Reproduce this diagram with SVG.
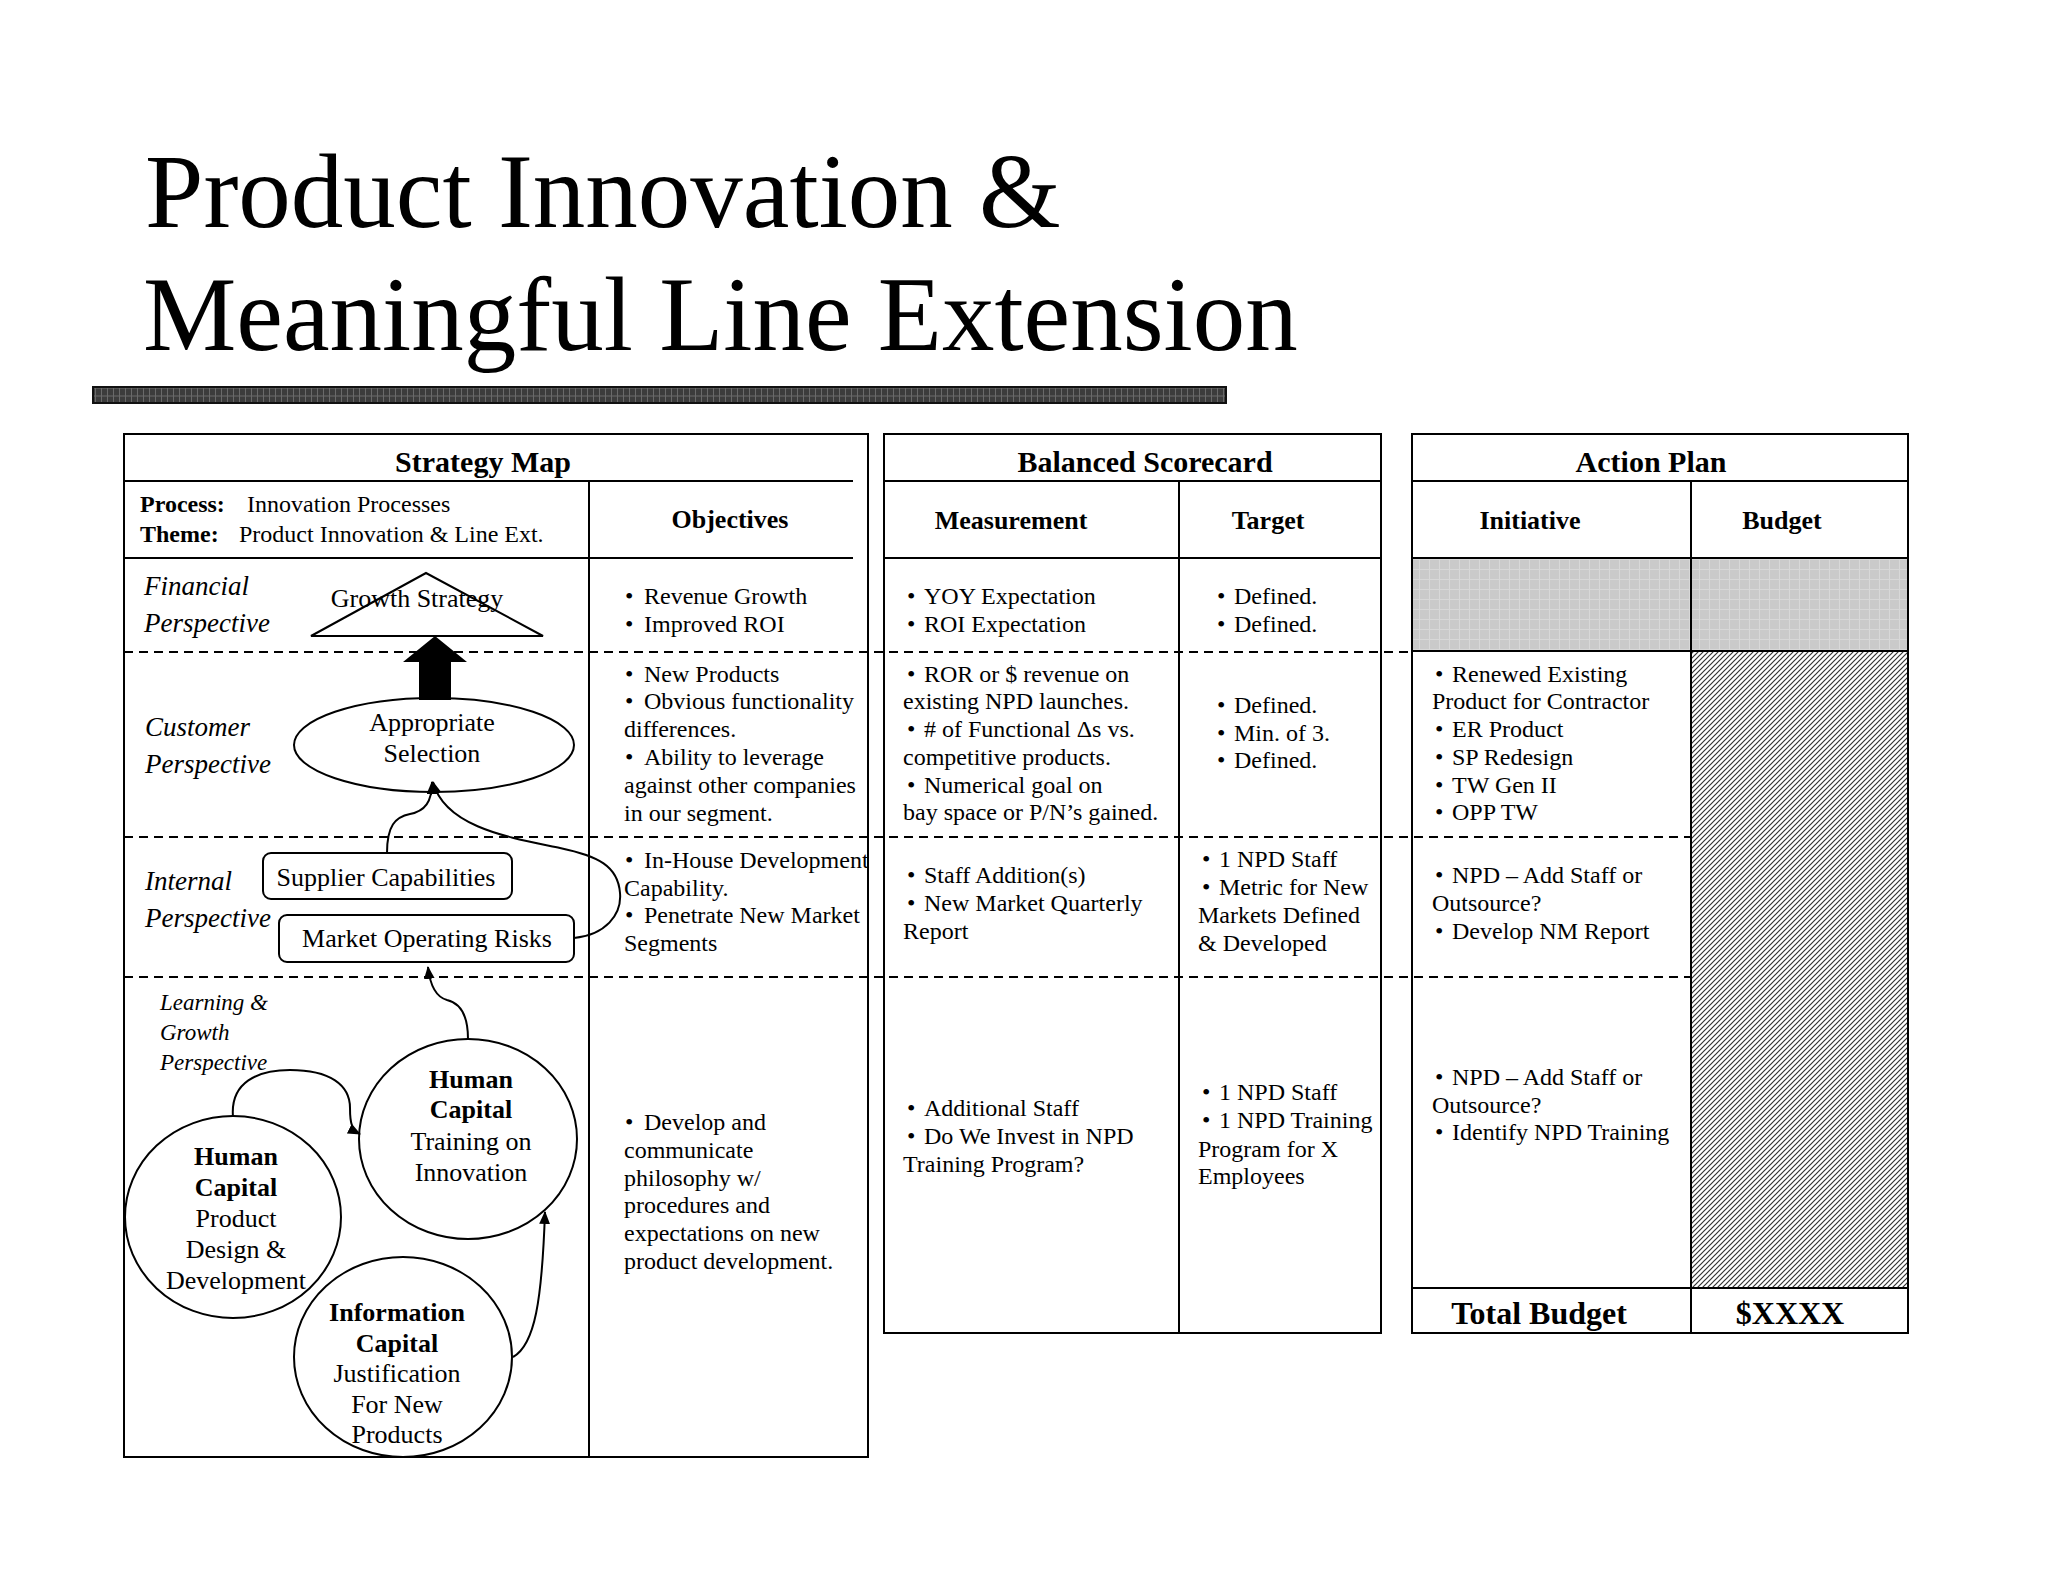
<svg xmlns="http://www.w3.org/2000/svg" width="2048" height="1582" viewBox="0 0 2048 1582">
<style>
text{font-family:"Liberation Serif","DejaVu Serif",serif;fill:#000}
.ttl{font-size:105px}
.hd{font-size:30px;font-weight:bold;text-anchor:middle}
.sh{font-size:26px;font-weight:bold;text-anchor:middle}
.bd{font-size:24px}
.pv{font-size:27px;font-style:italic}
.lg{font-size:23px;font-style:italic}
.nd{font-size:26px;text-anchor:middle}
.nb{font-size:26px;font-weight:bold;text-anchor:middle}
.tot{font-size:32px;font-weight:bold;text-anchor:middle}
.box{fill:none;stroke:#000;stroke-width:2}
.ln{stroke:#000;stroke-width:2;fill:none}
.dash{stroke:#000;stroke-width:2;stroke-dasharray:9 6;fill:none}
.shape{fill:#fff;stroke:#000;stroke-width:2}
.conn{fill:none;stroke:#000;stroke-width:2}
</style>
<defs>
<marker id="ah" viewBox="0 0 12 10" refX="11" refY="5" markerWidth="13" markerHeight="11" orient="auto" markerUnits="userSpaceOnUse"><path d="M0,0 L12,5 L0,10 z" fill="#000"/></marker>
<pattern id="barp" width="6" height="8" patternUnits="userSpaceOnUse"><rect width="6" height="8" fill="#3c3c3c"/><path d="M5.5,0 V8 M0,4 H6" stroke="#6a6a6a" stroke-width="1"/></pattern>
<pattern id="grayp" width="10" height="10" patternUnits="userSpaceOnUse"><rect width="10" height="10" fill="#cacaca"/><path d="M9.5,0 V10 M0,9.5 H10" stroke="#d8d8d8" stroke-width="1"/></pattern>
<pattern id="hatch" width="5" height="5" patternUnits="userSpaceOnUse"><rect width="5" height="5" fill="#fff"/><path d="M-1,6 L6,-1 M-1,1 L1,-1 M4,6 L6,4" stroke="#333" stroke-width="1.2"/></pattern>
</defs>
<rect width="2048" height="1582" fill="#fff"/>

<g id="title">
<text class="ttl" x="145" y="227">Product Innovation &amp;</text>
<text class="ttl" x="143" y="350">Meaningful Line Extension</text>
<rect x="93" y="387" width="1133" height="16" fill="url(#barp)" stroke="#111" stroke-width="2"/>
</g>

<g id="strategy-map">
<rect class="box" x="124" y="434" width="744" height="1023"/>
<line class="ln" x1="124" y1="481" x2="853" y2="481"/>
<line class="ln" x1="124" y1="558" x2="853" y2="558"/>
<line class="ln" x1="589" y1="481" x2="589" y2="1457"/>
<text class="hd" x="483" y="472">Strategy Map</text>
<text class="bd" x="140" y="512"><tspan font-weight="bold">Process:</tspan><tspan x="247">Innovation Processes</tspan></text>
<text class="bd" x="140" y="542"><tspan font-weight="bold">Theme:</tspan><tspan x="239">Product Innovation &amp; Line Ext.</tspan></text>
<text class="sh" x="730" y="528">Objectives</text>
<text class="pv" x="144"><tspan x="144" y="595">Financial</tspan><tspan x="144" y="632">Perspective</tspan></text>
<text class="pv" x="145"><tspan x="145" y="736">Customer</tspan><tspan x="145" y="773">Perspective</tspan></text>
<text class="pv" x="145"><tspan x="145" y="890">Internal</tspan><tspan x="145" y="927">Perspective</tspan></text>
<text class="lg" x="160"><tspan x="160" y="1010">Learning &amp;</tspan><tspan x="160" y="1040">Growth</tspan><tspan x="160" y="1070">Perspective</tspan></text>
</g>

<g id="objectives">
<text class="bd"><tspan x="625" y="604">•</tspan><tspan x="644">Revenue Growth</tspan><tspan x="625" y="632">•</tspan><tspan x="644">Improved ROI</tspan></text>
<text class="bd"><tspan x="625" y="682">•</tspan><tspan x="644">New Products</tspan><tspan x="625" y="709">•</tspan><tspan x="644">Obvious functionality</tspan><tspan x="624" y="737">differences.</tspan><tspan x="625" y="765">•</tspan><tspan x="644">Ability to leverage</tspan><tspan x="624" y="793">against other companies</tspan><tspan x="624" y="821">in our segment.</tspan></text>
<text class="bd"><tspan x="625" y="868">•</tspan><tspan x="644">In-House Development</tspan><tspan x="624" y="896">Capability.</tspan><tspan x="625" y="923">•</tspan><tspan x="644">Penetrate New Market</tspan><tspan x="624" y="951">Segments</tspan></text>
<text class="bd"><tspan x="625" y="1130">•</tspan><tspan x="644">Develop and</tspan><tspan x="624" y="1158">communicate</tspan><tspan x="624" y="1186">philosophy w/</tspan><tspan x="624" y="1213">procedures and</tspan><tspan x="624" y="1241">expectations on new</tspan><tspan x="624" y="1269">product development.</tspan></text>
</g>

<g id="scorecard">
<rect class="box" x="884" y="434" width="497" height="899"/>
<line class="ln" x1="884" y1="481" x2="1381" y2="481"/>
<line class="ln" x1="884" y1="558" x2="1381" y2="558"/>
<line class="ln" x1="1179" y1="481" x2="1179" y2="1333"/>
<text class="hd" x="1145" y="472">Balanced Scorecard</text>
<text class="sh" x="1011" y="529">Measurement</text>
<text class="sh" x="1268" y="529">Target</text>
<text class="bd"><tspan x="907" y="604">•</tspan><tspan x="924">YOY Expectation</tspan><tspan x="907" y="632">•</tspan><tspan x="924">ROI Expectation</tspan></text>
<text class="bd"><tspan x="907" y="682">•</tspan><tspan x="924">ROR or $ revenue on</tspan><tspan x="903" y="709">existing NPD launches.</tspan><tspan x="907" y="737">•</tspan><tspan x="924"># of Functional Δs vs.</tspan><tspan x="903" y="765">competitive products.</tspan><tspan x="907" y="793">•</tspan><tspan x="924">Numerical goal on</tspan><tspan x="903" y="820">bay space or P/N’s gained.</tspan></text>
<text class="bd"><tspan x="907" y="883">•</tspan><tspan x="924">Staff Addition(s)</tspan><tspan x="907" y="911">•</tspan><tspan x="924">New Market Quarterly</tspan><tspan x="903" y="939">Report</tspan></text>
<text class="bd"><tspan x="907" y="1116">•</tspan><tspan x="924">Additional Staff</tspan><tspan x="907" y="1144">•</tspan><tspan x="924">Do We Invest in NPD</tspan><tspan x="903" y="1172">Training Program?</tspan></text>
<text class="bd"><tspan x="1217" y="604">•</tspan><tspan x="1234">Defined.</tspan><tspan x="1217" y="632">•</tspan><tspan x="1234">Defined.</tspan></text>
<text class="bd"><tspan x="1217" y="713">•</tspan><tspan x="1234">Defined.</tspan><tspan x="1217" y="741">•</tspan><tspan x="1234">Min. of 3.</tspan><tspan x="1217" y="768">•</tspan><tspan x="1234">Defined.</tspan></text>
<text class="bd"><tspan x="1202" y="867">•</tspan><tspan x="1219">1 NPD Staff</tspan><tspan x="1202" y="895">•</tspan><tspan x="1219">Metric for New</tspan><tspan x="1198" y="923">Markets Defined</tspan><tspan x="1198" y="951">&amp; Developed</tspan></text>
<text class="bd"><tspan x="1202" y="1100">•</tspan><tspan x="1219">1 NPD Staff</tspan><tspan x="1202" y="1128">•</tspan><tspan x="1219">1 NPD Training</tspan><tspan x="1198" y="1157">Program for X</tspan><tspan x="1198" y="1184">Employees</tspan></text>
</g>

<g id="action-plan">
<rect x="1412" y="558" width="496" height="93" fill="url(#grayp)"/>
<rect x="1691" y="651" width="217" height="637" fill="url(#hatch)"/>
<rect class="box" x="1412" y="434" width="496" height="899"/>
<line class="ln" x1="1412" y1="481" x2="1908" y2="481"/>
<line class="ln" x1="1412" y1="558" x2="1908" y2="558"/>
<line class="ln" x1="1412" y1="651" x2="1908" y2="651"/>
<line class="ln" x1="1412" y1="1288" x2="1908" y2="1288"/>
<line class="ln" x1="1691" y1="481" x2="1691" y2="1333"/>
<text class="hd" x="1651" y="472">Action Plan</text>
<text class="sh" x="1530" y="529">Initiative</text>
<text class="sh" x="1782" y="529">Budget</text>
<text class="bd"><tspan x="1435" y="682">•</tspan><tspan x="1452">Renewed Existing</tspan><tspan x="1432" y="709">Product for Contractor</tspan><tspan x="1435" y="737">•</tspan><tspan x="1452">ER Product</tspan><tspan x="1435" y="765">•</tspan><tspan x="1452">SP Redesign</tspan><tspan x="1435" y="793">•</tspan><tspan x="1452">TW Gen II</tspan><tspan x="1435" y="820">•</tspan><tspan x="1452">OPP TW</tspan></text>
<text class="bd"><tspan x="1435" y="883">•</tspan><tspan x="1452">NPD – Add Staff or</tspan><tspan x="1432" y="911">Outsource?</tspan><tspan x="1435" y="939">•</tspan><tspan x="1452">Develop NM Report</tspan></text>
<text class="bd"><tspan x="1435" y="1085">•</tspan><tspan x="1452">NPD – Add Staff or</tspan><tspan x="1432" y="1113">Outsource?</tspan><tspan x="1435" y="1140">•</tspan><tspan x="1452">Identify NPD Training</tspan></text>
<text class="tot" x="1539" y="1324">Total Budget</text>
<text class="tot" x="1790" y="1324">$XXXX</text>
</g>

<g id="row-dividers">
<line class="dash" x1="124" y1="652" x2="1412" y2="652"/>
<line class="dash" x1="124" y1="837" x2="1691" y2="837"/>
<line class="dash" x1="124" y1="977" x2="1691" y2="977"/>
</g>

<g id="node-growth-strategy">
<polygon class="shape" points="426,573 311,636 543,636" fill="none"/>
<text class="nd" x="417" y="607">Growth Strategy</text>
</g>
<g id="node-appropriate-selection">
<ellipse class="shape" cx="434" cy="745" rx="140" ry="47"/>
<text class="nd" x="432" y="731">Appropriate</text>
<text class="nd" x="432" y="762">Selection</text>
</g>
<g id="node-supplier">
<rect class="shape" x="263" y="853" width="249" height="46" rx="8"/>
<text class="nd" x="386" y="886">Supplier Capabilities</text>
</g>
<g id="node-market-risks">
<rect class="shape" x="279" y="915" width="295" height="47" rx="8"/>
<text class="nd" x="427" y="947">Market Operating Risks</text>
</g>
<g id="node-hc-training">
<ellipse class="shape" cx="468" cy="1139" rx="109" ry="100"/>
<text class="nb" x="471" y="1088">Human</text>
<text class="nb" x="471" y="1118">Capital</text>
<text class="nd" x="471" y="1150">Training on</text>
<text class="nd" x="471" y="1181">Innovation</text>
</g>
<g id="node-hc-design">
<ellipse class="shape" cx="233" cy="1217" rx="108" ry="101"/>
<text class="nb" x="236" y="1165">Human</text>
<text class="nb" x="236" y="1196">Capital</text>
<text class="nd" x="236" y="1227">Product</text>
<text class="nd" x="236" y="1258">Design &amp;</text>
<text class="nd" x="236" y="1289">Development</text>
</g>
<g id="node-info-capital">
<ellipse class="shape" cx="403" cy="1357" rx="109" ry="100"/>
<text class="nb" x="397" y="1321">Information</text>
<text class="nb" x="397" y="1352">Capital</text>
<text class="nd" x="397" y="1382">Justification</text>
<text class="nd" x="397" y="1413">For New</text>
<text class="nd" x="397" y="1443">Products</text>
</g>

<g id="connectors">
<path class="conn" d="M387,853 C387,826 395,817 410,814 C425,811 432,802 432,782" marker-end="url(#ah)"/>
<path class="conn" d="M574,938 C605,935 622,915 620,893 C618,866 598,856 560,848 C512,838 445,828 433,782" marker-end="url(#ah)"/>
<path class="conn" d="M468,1039 C468,1015 460,1003 447,1000 C436,997 430,985 428,967" marker-end="url(#ah)"/>
<path class="conn" d="M233,1117 C230,1082 258,1070 290,1070 C330,1070 350,1085 350,1108 C350,1124 352,1130 360,1134" marker-end="url(#ah)"/>
<path class="conn" d="M513,1357 C535,1345 542,1300 545,1212" marker-end="url(#ah)"/>
<polygon points="419,700 419,662 403,662 435,636 467,662 451,662 451,700" fill="#000"/>
</g>
</svg>
